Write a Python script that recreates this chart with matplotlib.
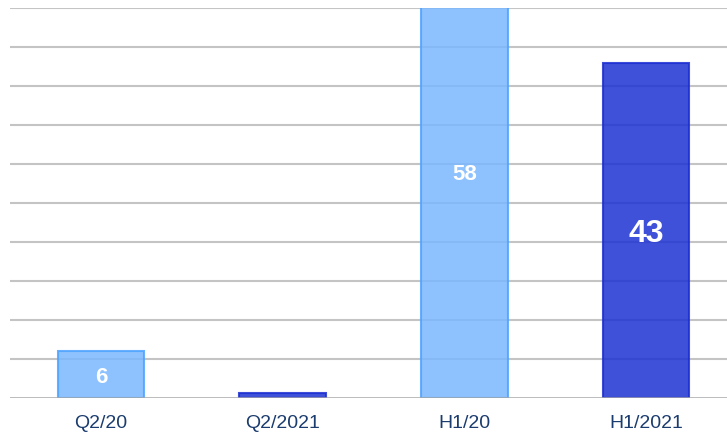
import matplotlib
matplotlib.use("Agg")
import matplotlib.pyplot as plt

categories = ["Q2/20", "Q2/2021", "H1/20", "H1/2021"]
values = [6, 0.6, 58, 43]
labels = ["6", "", "58", "43"]
label_sizes = [16, 16, 16, 23]

fills = ["#7ab8ff", "#1d32d2", "#7ab8ff", "#1d32d2"]
edges = ["#4da3ff", "#1c2ed2", "#4da3ff", "#1c2ed2"]

plt.rcParams['font.family'] = ['Liberation Sans', 'DejaVu Sans']

fig = plt.figure(figsize=(7.27, 4.36), dpi=100)
W, H = 727, 436
ax = fig.add_axes([10 / W, 38 / H, 727 / W, 390 / H])
ax.set_xlim(-0.5, 3.5)
ax.set_ylim(0, 50)

for y in range(5, 51, 5):
    ax.axhline(y, color="#c4c4c4", lw=1.5, zorder=1)
ax.axhline(0, color="#a8a8a8", lw=1.8, zorder=4)

x = list(range(len(categories)))
ax.bar(x, values, width=0.475, color=fills, edgecolor=edges, linewidth=1.5,
       alpha=0.85, zorder=2, clip_on=True)
for xi, v, lab, fs in zip(x, values, labels, label_sizes):
    if lab:
        ax.text(xi, v / 2, lab, ha="center", va="center_baseline", color="white",
                fontsize=fs, fontweight="bold", zorder=5)

ax.set_xticks(x)
ax.set_xticklabels(categories, fontsize=14, color="#1b3c6e")
ax.tick_params(axis="x", length=0, pad=12)
ax.set_yticks([])
for s in ax.spines.values():
    s.set_visible(False)

fig.savefig("out.png", dpi=100)
